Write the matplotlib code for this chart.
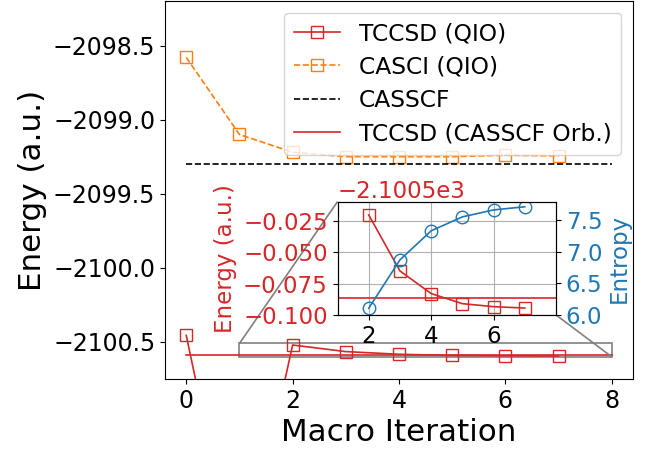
import matplotlib
matplotlib.use('Agg')
import matplotlib.pyplot as plt
from mpl_toolkits.axes_grid1.inset_locator import mark_inset

# ---- data ----
iterations = [0, 1, 2, 3, 4, 5, 6, 7]
tccsd_qio = [-2100.456, -2102.15, -2100.5205, -2100.565, -2100.583,
             -2100.591, -2100.5934, -2100.5945]
casci_qio = [-2098.58, -2099.10, -2099.22, -2099.25, -2099.25,
             -2099.25, -2099.24, -2099.245]
ref_x = [0, 8]
casscf_energy = [-2099.296, -2099.296]
tccsd_casscf_energy = [-2100.5863, -2100.5863]

inset_iter = [2, 3, 4, 5, 6, 7]
inset_energy = [-2100.5205, -2100.565, -2100.583, -2100.591, -2100.5934, -2100.5945]
entropy = [6.106, 6.87, 7.33, 7.55, 7.66, 7.71]

red = '#d62728'
orange = '#ff7f0e'
blue = '#1f77b4'
FS = 17
FSL = 16.8
FSI = 16.5

fig = plt.figure(figsize=(6.57, 4.51), dpi=100)
ax = fig.add_axes([0.2511, 0.1596, 0.7124, 0.838])

ax.plot(iterations, tccsd_qio, '-s', color=red, mfc='none', ms=9, lw=1.2,
        label='TCCSD (QIO)')
ax.plot(iterations, casci_qio, '--s', color=orange, mfc='none', ms=9, lw=1.2,
        label='CASCI (QIO)')
ax.plot(ref_x, casscf_energy, '--', color='black', lw=1.2, label='CASSCF')
ax.plot(ref_x, tccsd_casscf_energy, '-', color=red, lw=1.2,
        label='TCCSD (CASSCF Orb.)')

ax.set_xlim(-0.4, 8.4)
ax.set_ylim(-2100.75, -2098.2)
ax.set_xticks([0, 2, 4, 6, 8])
ax.set_yticks([-2100.5, -2100.0, -2099.5, -2099.0, -2098.5])
ax.tick_params(labelsize=FS)
ax.set_xlabel('Macro Iteration', fontsize=22.3)
ax.set_ylabel('Energy (a.u.)', fontsize=22.3)
ax.legend(loc='upper right', fontsize=FSL, labelspacing=0.45)

# ---- inset ----
axin = fig.add_axes([0.5137, 0.3016, 0.3326, 0.2512])
axin.plot(inset_iter, inset_energy, '-s', color=red, mfc='none', ms=9, lw=1.2)
axin.plot(ref_x, tccsd_casscf_energy, '-', color=red, lw=1.2)
axin.set_xlim(1, 8)
axin.set_ylim(-2100.6, -2100.51)
axin.set_xticks([2, 4, 6])
axin.set_yticks([-2100.6, -2100.575, -2100.55, -2100.525])
axin.grid(True)
axin.tick_params(labelsize=FSI)
axin.tick_params(axis='y', labelcolor=red)
axin.yaxis.get_offset_text().set_color(red)
axin.yaxis.get_offset_text().set_fontsize(FSI)
axin.set_ylabel('Energy (a.u.)', color=red, fontsize=FSI)

axin2 = axin.twinx()
axin2.plot(inset_iter, entropy, '-o', color=blue, mfc='none', ms=9, lw=1.2)
axin2.set_ylim(6.0, 7.79)
axin2.set_yticks([6.0, 6.5, 7.0, 7.5])
axin2.tick_params(labelsize=FSI, labelcolor=blue)
axin2.set_ylabel('Entropy', color=blue, fontsize=FSI)

mark_inset(ax, axin, loc1=2, loc2=4, fc='none', ec='0.5', lw=1.2)

fig.savefig('out.png', dpi=100)
